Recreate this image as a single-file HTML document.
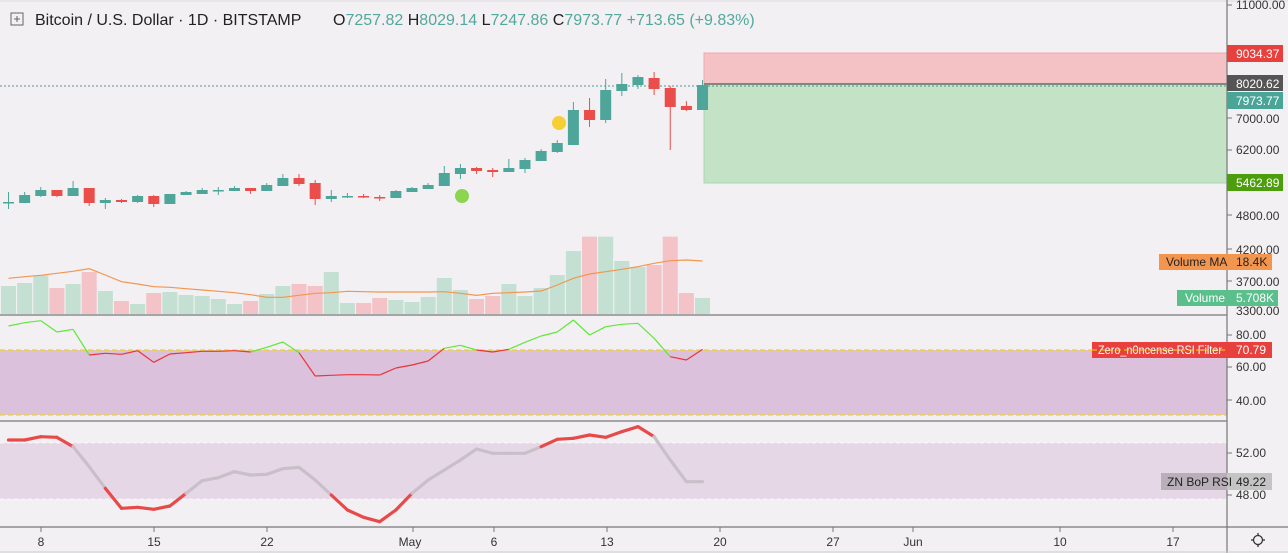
<!DOCTYPE html><html><head><meta charset="utf-8"><style>
html,body{margin:0;padding:0;background:#f2f0f3;overflow:hidden}
svg{display:block;font-family:"Liberation Sans","DejaVu Sans",sans-serif}
</style></head><body>
<svg id="s" width="1288" height="553" viewBox="0 0 1288 553" xmlns="http://www.w3.org/2000/svg">
<rect width="1288" height="553" fill="#f2f0f3"/>
<line x1="0" y1="1" x2="1288" y2="1" stroke="#ddd"/>
<rect x="704" y="53" width="523" height="31" fill="#f4c2c5" stroke="#f0a8ac" stroke-width="1"/>
<rect x="704" y="84" width="523" height="99" fill="#c3e2c6" stroke="#a9d8ae" stroke-width="1"/>
<line x1="704" y1="84" x2="1227" y2="84" stroke="#555" stroke-width="1.3"/>
<line x1="0" y1="86" x2="1227" y2="86" stroke="#4a9a94" stroke-dasharray="2,2" stroke-width="1"/>
<g id="cand"></g>
<circle cx="559" cy="123" r="7" fill="#f6cf35"/>
<circle cx="462" cy="196" r="7" fill="#8bd54f"/>
<g id="vol"></g>
<line x1="0" y1="315" x2="1227" y2="315" stroke="#777" stroke-width="1.2"/>
<rect x="0" y="350" width="1227" height="65" fill="#dbc1db"/>
<line x1="0" y1="350" x2="1227" y2="350" stroke="#f3d31c" stroke-dasharray="5,3" stroke-width="1.3"/>
<line x1="0" y1="415" x2="1227" y2="415" stroke="#f3d31c" stroke-dasharray="5,3" stroke-width="1.3"/>
<g id="rsi"></g>
<line x1="0" y1="421" x2="1227" y2="421" stroke="#777" stroke-width="1.2"/>
<rect x="0" y="443" width="1227" height="56" fill="#e6d7e6"/>
<line x1="0" y1="443" x2="1227" y2="443" stroke="#fff" stroke-dasharray="4,3" stroke-opacity=".6"/>
<line x1="0" y1="499" x2="1227" y2="499" stroke="#fff" stroke-dasharray="4,3" stroke-opacity=".6"/>
<g id="bop"></g>
<line x1="0" y1="527" x2="1288" y2="527" stroke="#777" stroke-width="1.2"/>
<line x1="1227" y1="0" x2="1227" y2="553" stroke="#777" stroke-width="1.2"/>
<line x1="0" y1="552" x2="1288" y2="552" stroke="#ccc"/>
<rect x="11" y="13" width="12" height="12" fill="none" stroke="#666"/><line x1="14" y1="19" x2="20" y2="19" stroke="#666"/><line x1="17" y1="16" x2="17" y2="22" stroke="#666"/>
<text x="35" y="25" font-size="16" fill="#222">Bitcoin / U.S. Dollar · 1D · BITSTAMP</text>
<text x="333" y="25" font-size="16" fill="#222">O<tspan fill="#53a89e">7257.82</tspan> H<tspan fill="#53a89e">8029.14</tspan> L<tspan fill="#53a89e">7247.86</tspan> C<tspan fill="#53a89e">7973.77</tspan> <tspan fill="#53a89e">+713.65 (+9.83%)</tspan></text>
<g font-size="12" fill="#333">
<text x="1236" y="9">11000.00</text>
<text x="1236" y="123">7000.00</text>
<text x="1236" y="154">6200.00</text>
<text x="1236" y="220">4800.00</text>
<text x="1236" y="254">4200.00</text>
<text x="1236" y="286">3700.00</text>
<text x="1236" y="315">3300.00</text>
<text x="1236" y="339">80.00</text>
<text x="1236" y="371">60.00</text>
<text x="1236" y="405">40.00</text>
<text x="1236" y="457">52.00</text>
<text x="1236" y="499">48.00</text>
</g>
<g stroke="#777"><line x1="1227" y1="5" x2="1232" y2="5"/><line x1="1227" y1="118" x2="1232" y2="118"/><line x1="1227" y1="150" x2="1232" y2="150"/><line x1="1227" y1="215" x2="1232" y2="215"/><line x1="1227" y1="249" x2="1232" y2="249"/><line x1="1227" y1="281" x2="1232" y2="281"/><line x1="1227" y1="335" x2="1232" y2="335"/><line x1="1227" y1="367" x2="1232" y2="367"/><line x1="1227" y1="400" x2="1232" y2="400"/><line x1="1227" y1="453" x2="1232" y2="453"/><line x1="1227" y1="495" x2="1232" y2="495"/></g>
<g font-size="12" fill="#fff">
<rect x="1227" y="45" width="56" height="17" fill="#e8403d"/><text x="1236" y="58">9034.37</text>
<rect x="1227" y="75" width="56" height="16" fill="#555"/><text x="1236" y="88">8020.62</text>
<rect x="1227" y="92" width="56" height="17" fill="#4aa598"/><text x="1236" y="105">7973.77</text>
<rect x="1227" y="174" width="56" height="17" fill="#4c9e0c"/><text x="1236" y="187">5462.89</text>
<rect x="1159" y="254" width="113" height="16" fill="#f2964f"/><text x="1166" y="266" fill="#222">Volume MA</text><text x="1236" y="266" fill="#222">18.4K</text>
<rect x="1177" y="290" width="101" height="16" fill="#5bbf8c"/><text x="1185" y="302">Volume</text><text x="1236" y="302">5.708K</text>
<rect x="1092" y="342" width="180" height="16" fill="#e8403d"/><text x="1098" y="354" font-size="11.5" textLength="124" lengthAdjust="spacingAndGlyphs">Zero_n0ncense RSI Filter</text><text x="1236" y="354">70.79</text>
<line x1="1092" y1="350" x2="1227" y2="350" stroke="#f3d31c" stroke-dasharray="5,3"/>
<rect x="1161" y="473" width="66" height="17" fill="#b8afb8"/><rect x="1227" y="473" width="45" height="17" fill="#c4c4c4"/><text x="1167" y="486" fill="#222">ZN BoP RSI</text><text x="1236" y="486" fill="#222">49.22</text>
</g>
<g font-size="12" fill="#333" text-anchor="middle">
<text x="41" y="546">8</text><text x="154" y="546">15</text><text x="267" y="546">22</text><text x="410" y="546">May</text><text x="494" y="546">6</text><text x="607" y="546">13</text><text x="720" y="546">20</text><text x="833" y="546">27</text><text x="913" y="546">Jun</text><text x="1060" y="546">10</text><text x="1173" y="546">17</text>
</g>
<g stroke="#777"><line x1="41" y1="527" x2="41" y2="532"/><line x1="154" y1="527" x2="154" y2="532"/><line x1="267" y1="527" x2="267" y2="532"/><line x1="413" y1="527" x2="413" y2="532"/><line x1="494" y1="527" x2="494" y2="532"/><line x1="607" y1="527" x2="607" y2="532"/><line x1="720" y1="527" x2="720" y2="532"/><line x1="833" y1="527" x2="833" y2="532"/><line x1="913" y1="527" x2="913" y2="532"/><line x1="1060" y1="527" x2="1060" y2="532"/><line x1="1173" y1="527" x2="1173" y2="532"/></g>
<g stroke="#333" stroke-width="1.3" fill="none"><circle cx="1258" cy="540" r="4.5"/><line x1="1258" y1="533" x2="1258" y2="535"/><line x1="1258" y1="545" x2="1258" y2="547"/><line x1="1251" y1="540" x2="1253" y2="540"/><line x1="1263" y1="540" x2="1265" y2="540"/></g>
</svg>
<script>
var NS="http://www.w3.org/2000/svg";
function X(i){return 8.5+16.14*i;}
function el(p,t,a){var e=document.createElementNS(NS,t);for(var k in a)e.setAttribute(k,a[k]);p.appendChild(e);return e;}
var G="#4ea59a",R="#ea4d4a";
var C=[[202,202,192,209,1],[195,203,192,203,1],[190,196,187,197,1],[190,196,190,197,0],[188,196,181,196,1],[188,203,188,206,0],[200,203,198,209,1],[200,202,199,203,0],[196,202,195,203,1],[196,204,195,207,0],[194,204,194,204,1],[192,195,191,195,1],[190,194,188,194,1],[190,191,187,195,1],[188,191,186,191,1],[188,191,188,194,0],[185,191,183,191,1],[178,186,174,186,1],[178,184,174,186,0],[183,199,180,205,0],[196,199,190,202,1],[196,197,193,198,1],[196,197,194,198,0],[197,198,195,201,0],[191,198,190,198,1],[188,192,187,192,1],[185,189,183,189,1],[173,186,166,186,1],[168,174,164,179,1],[168,171,167,174,0],[170,172,168,177,0],[168,172,159,172,1],[160,169,158,173,1],[151,161,149,161,1],[143,152,140,153,1],[110,145,102,145,1],[110,120,98,127,0],[90,120,79,123,1],[84,91,73,96,1],[77,85,75,89,1],[78,89,72,95,0],[88,107,86,150,0],[106,110,101,111,0],[85,110,80,110,1]];
var cg=document.getElementById("cand");
C.forEach(function(c,i){var x=X(i),col=c[4]?G:R;
el(cg,"line",{x1:x,x2:x,y1:c[2],y2:c[3],stroke:col,"stroke-width":1});
el(cg,"rect",{x:x-5.5,y:c[0],width:11,height:Math.max(1.5,c[1]-c[0]),fill:col});});
var V=[[168,1],[159,1],[136,1],[174,0],[162,1],[126,0],[183,1],[213,0],[222,1],[189,0],[186,1],[195,1],[198,1],[207,1],[222,1],[213,0],[192,1],[168,1],[162,0],[168,0],[126,1],[219,1],[219,0],[204,0],[210,1],[216,1],[201,1],[144,1],[180,1],[207,0],[198,0],[162,1],[198,1],[174,1],[135,1],[63,1],[20,0],[20,1],[93,1],[111,1],[105,0],[20,0],[189,0],[204,1]];
var vg=document.getElementById("vol");
V.forEach(function(v,i){var y=230+v[0]/3;el(vg,"rect",{x:X(i)-7.5,y:y,width:15,height:314-y,fill:v[1]?"#c3e0d3":"#f3c3c8"});});
var MA=[145,140,136,130,124,116,135,155,162,170,172,176,180,184,188,194,202,202,196,190,188,184,185,186,186,186,186,185,190,196,190,188,186,183,165,145,132,125,118,110,100,92,90,93];
el(vg,"polyline",{points:MA.map(function(m,i){return X(i)+","+(230+m/3);}).join(" "),fill:"none",stroke:"#f2964f","stroke-width":1.2});
var RS=[288,278,272,306,298,375,370,373,362,397,372,368,364,364,362,366,352,336,368,438,436,434,434,435,414,405,393,355,346,360,366,358,337,318,306,270,315,290,283,280,325,380,390,358];
var rg=document.getElementById("rsi");
for(var i=0;i<RS.length-1;i++){var a=230+RS[i]/3,b=230+RS[i+1]/3;var col=((a+b)/2<350.5)?"#5ee83a":"#e8353a";
el(rg,"line",{x1:X(i),y1:a,x2:X(i+1),y2:b,stroke:col,"stroke-width":1.2});}
var BP=[630,630,620,622,650,710,775,835,832,838,828,790,752,743,725,735,733,716,712,750,795,840,862,875,840,790,750,720,690,657,670,670,670,650,628,625,615,622,605,590,620,690,755,755];
var bg=document.getElementById("bop");
for(var i=0;i<BP.length-1;i++){var a=230+BP[i]/3,b=230+BP[i+1]/3,m=(a+b)/2;var col=(m<444||m>498)?"#e84a4a":"#c9bfc9";
el(bg,"line",{x1:X(i),y1:a,x2:X(i+1),y2:b,stroke:col,"stroke-width":3.2,"stroke-linecap":"round"});}
</script>
</body></html>
